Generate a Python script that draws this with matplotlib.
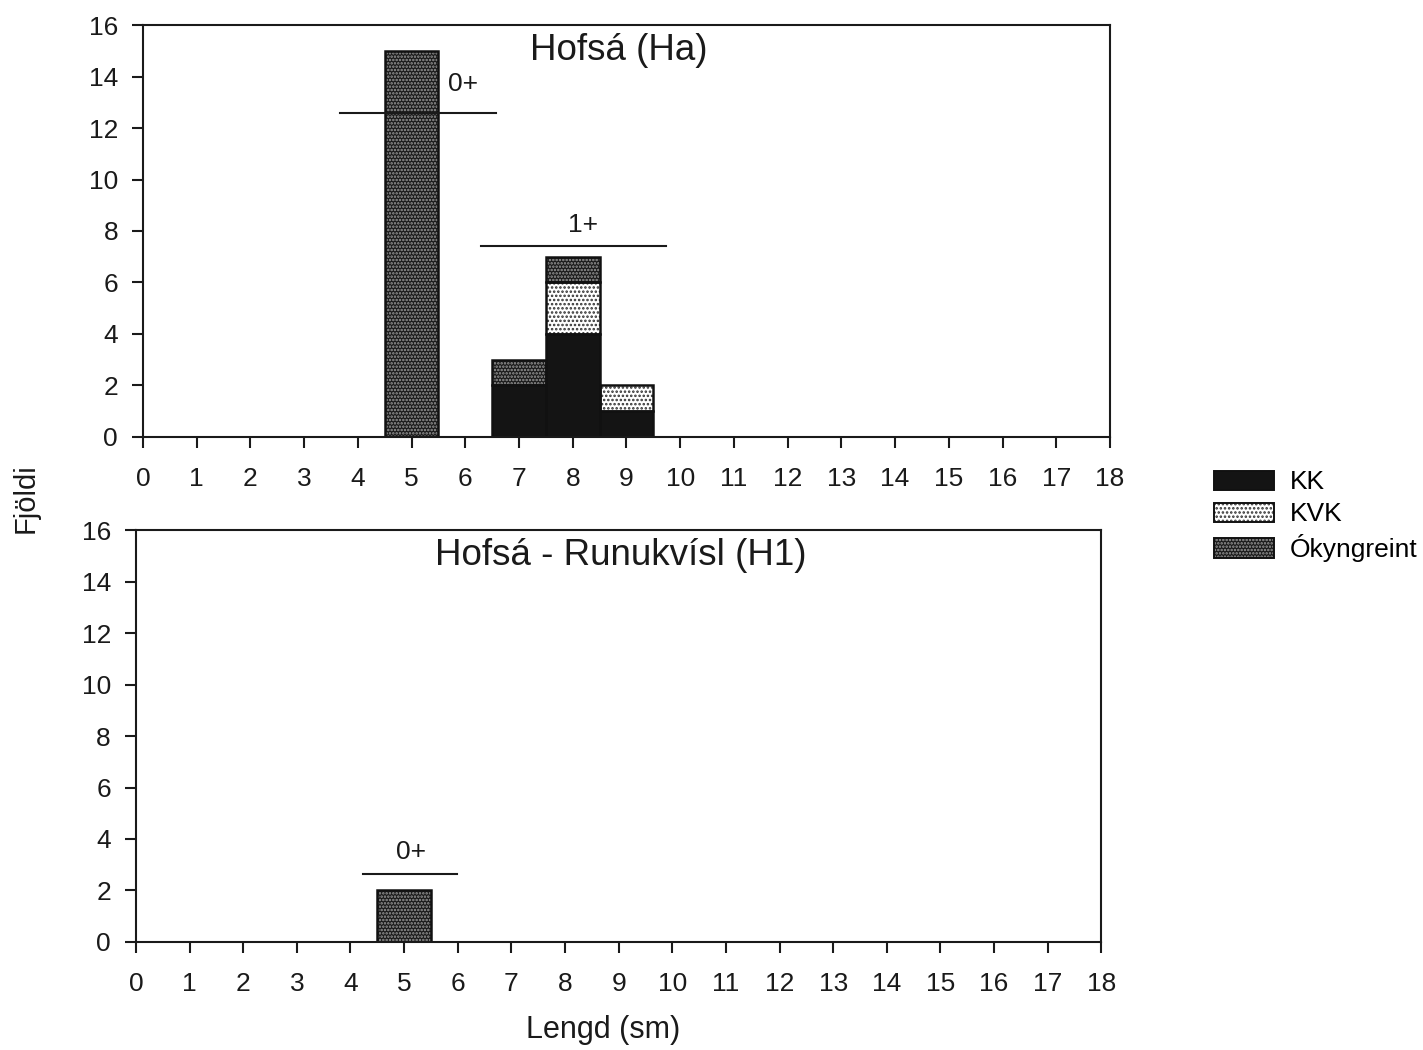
import matplotlib
matplotlib.use("Agg")
import matplotlib.pyplot as plt
from matplotlib.patches import Patch
import numpy as np

plt.rcParams["font.family"] = ["Liberation Sans", "DejaVu Sans"]
plt.rcParams["hatch.linewidth"] = 1.2

# length classes (cm)
lengths = np.arange(0, 19)

# Hofsá (Ha): counts per length class
ha_x = [5, 7, 8, 9]
ha_kk = [0, 2, 4, 1]
ha_kvk = [0, 0, 2, 1]
ha_ok = [15, 1, 1, 0]

# Hofsá - Runukvísl (H1)
h1_x = [5]
h1_kk = [0]
h1_kvk = [0]
h1_ok = [2]

# age group brackets: (x0, x1, y, label, label_x, label_y)
ha_groups = [(3.67, 6.57, 12.6, "0+", 5.95, 13.7),
             (6.3, 9.74, 7.4, "1+", 8.19, 8.25)]
h1_groups = [(4.23, 5.99, 2.65, "0+", 5.13, 3.5)]

STY = {
    "KK": dict(facecolor="#141414", edgecolor="#141414", hatch=None),
    "KVK": dict(facecolor="white", edgecolor="#303030", hatch="...."),
    "Ok": dict(facecolor="#1a1a1a", edgecolor="#9a9a9a", hatch="....."),
}
INK = "#1a1a1a"


def stacked(ax, x, kk, kvk, ok):
    kk = np.array(kk, float)
    kvk = np.array(kvk, float)
    ok = np.array(ok, float)
    ax.bar(x, kk, width=1.0, lw=0, **STY["KK"])
    ax.bar(x, kvk, bottom=kk, width=1.0, lw=0, **STY["KVK"])
    ax.bar(x, ok, bottom=kk + kvk, width=1.0, lw=0, **STY["Ok"])
    # outlines of each segment
    for b, h in ((0, kk), (kk, kvk), (kk + kvk, ok)):
        m = h > 0
        ax.bar(np.array(x)[m], h[m], bottom=np.broadcast_to(b, h.shape)[m],
               width=1.0, fill=False, edgecolor="#111111", lw=1.8)


def frame(ax, title, title_x, groups):
    ax.set_xlim(0, 18)
    ax.set_ylim(0, 16)
    ax.set_xticks(lengths)
    ax.set_yticks(np.arange(0, 17, 2))
    ax.tick_params(direction="out", length=8, width=1.5, labelsize=19,
                   colors=INK)
    ax.tick_params(axis="x", pad=14)
    ax.tick_params(axis="y", pad=10)
    for s in ax.spines.values():
        s.set_linewidth(1.5)
        s.set_color(INK)
    ax.text(title_x, 15.0, title, ha="center", va="center", fontsize=26.5,
            color=INK)
    for x0, x1, y, lab, lx, ly in groups:
        ax.plot([x0, x1], [y, y], color=INK, lw=1.5)
        ax.text(lx, ly, lab, ha="center", va="center", fontsize=19,
                color=INK)


fig = plt.figure(figsize=(14.23, 10.5), dpi=100)
ax1 = fig.add_axes([0.1005, 0.584, 0.6795, 0.392])
ax2 = fig.add_axes([0.0955, 0.103, 0.6785, 0.392])

stacked(ax1, ha_x, ha_kk, ha_kvk, ha_ok)
frame(ax1, "Hofsá (Ha)", 8.86, ha_groups)
stacked(ax2, h1_x, h1_kk, h1_kvk, h1_ok)
frame(ax2, "Hofsá - Runukvísl (H1)", 9.04, h1_groups)

fig.text(0.018, 0.526, "Fjöldi", rotation=90, ha="center", va="center",
         fontsize=21, color=INK)
fig.text(0.424, 0.019, "Lengd (sm)", ha="center", va="center",
         fontsize=22, color=INK)

outline = dict(fill=False, edgecolor="#111111", lw=1.4)
handles = [(Patch(lw=0, **STY[k]), Patch(**outline)) for k in ("KK", "KVK", "Ok")]
fig.legend(handles, ["KK", "KVK", "Ókyngreint"], loc="upper left",
           bbox_to_anchor=(0.8455, 0.562), frameon=False, fontsize=19,
           handlelength=2.3, handleheight=0.75, labelspacing=0.3,
           handletextpad=0.6, borderaxespad=0)

fig.savefig("out.png", dpi=100)
